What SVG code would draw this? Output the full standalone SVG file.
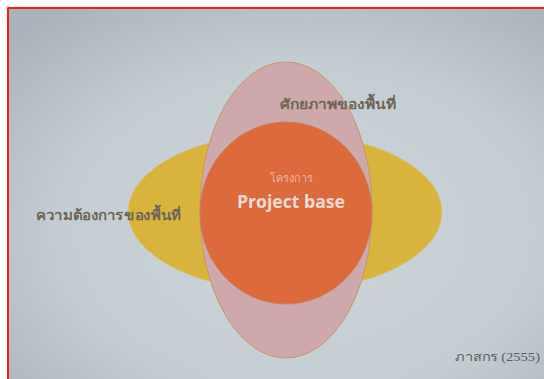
<svg xmlns="http://www.w3.org/2000/svg" width="544" height="379" viewBox="0 0 544 379">
<defs>
<radialGradient id="bg" cx="0.55" cy="0.6" r="0.75">
<stop offset="0" stop-color="#cdd6da"/>
<stop offset="0.6" stop-color="#c3cdd2"/>
<stop offset="1" stop-color="#a9b3b8"/>
</radialGradient>
<style>
.lbl{font-family:"Noto Sans","DejaVu Sans",sans-serif;font-weight:bold;fill:#6e6656}
.ref{font-family:"Liberation Serif","Noto Serif",serif;fill:#5e5e5e}
</style>
</defs>
<rect width="544" height="379" fill="#ffffff"/>
<rect x="8" y="8" width="536" height="371" fill="url(#bg)"/>
<path d="M8 379 V8 H544" fill="none" stroke="#ff1a1a" stroke-width="2"/>
<g id="need">
<ellipse cx="285" cy="212" rx="157" ry="79" fill="#d8b33e" stroke="#d9c27a" stroke-width="1"/>
</g>
<g id="potential">
<ellipse cx="286" cy="210" rx="86" ry="148" fill="#cfa8ab" stroke="#c7976c" stroke-width="1"/>
</g>
<g id="project">
<ellipse cx="286" cy="213" rx="86" ry="91" fill="#dc6a3d" stroke="#c9805a" stroke-width="1"/>
</g>
<g id="labels">
<text class="lbl" x="280" y="109" font-size="14" textLength="116" lengthAdjust="spacingAndGlyphs">ศักยภาพของพื้นที่</text>
<text class="lbl" x="36" y="220" font-size="14" textLength="145" lengthAdjust="spacingAndGlyphs">ความต้องการของพื้นที่</text>
<text x="291" y="182" font-size="11" text-anchor="middle" font-family="Noto Sans, DejaVu Sans, sans-serif" fill="#eeb2a0">โครงการ</text>
<text x="291" y="208" font-size="17" text-anchor="middle" font-weight="bold" font-family="Open Sans, Noto Sans, sans-serif" fill="#f2dcd4" textLength="108" lengthAdjust="spacingAndGlyphs">Project base</text>
<text class="ref" x="455" y="361" font-size="12" textLength="85" lengthAdjust="spacingAndGlyphs">ภาสกร (2555)</text>
</g>
</svg>
